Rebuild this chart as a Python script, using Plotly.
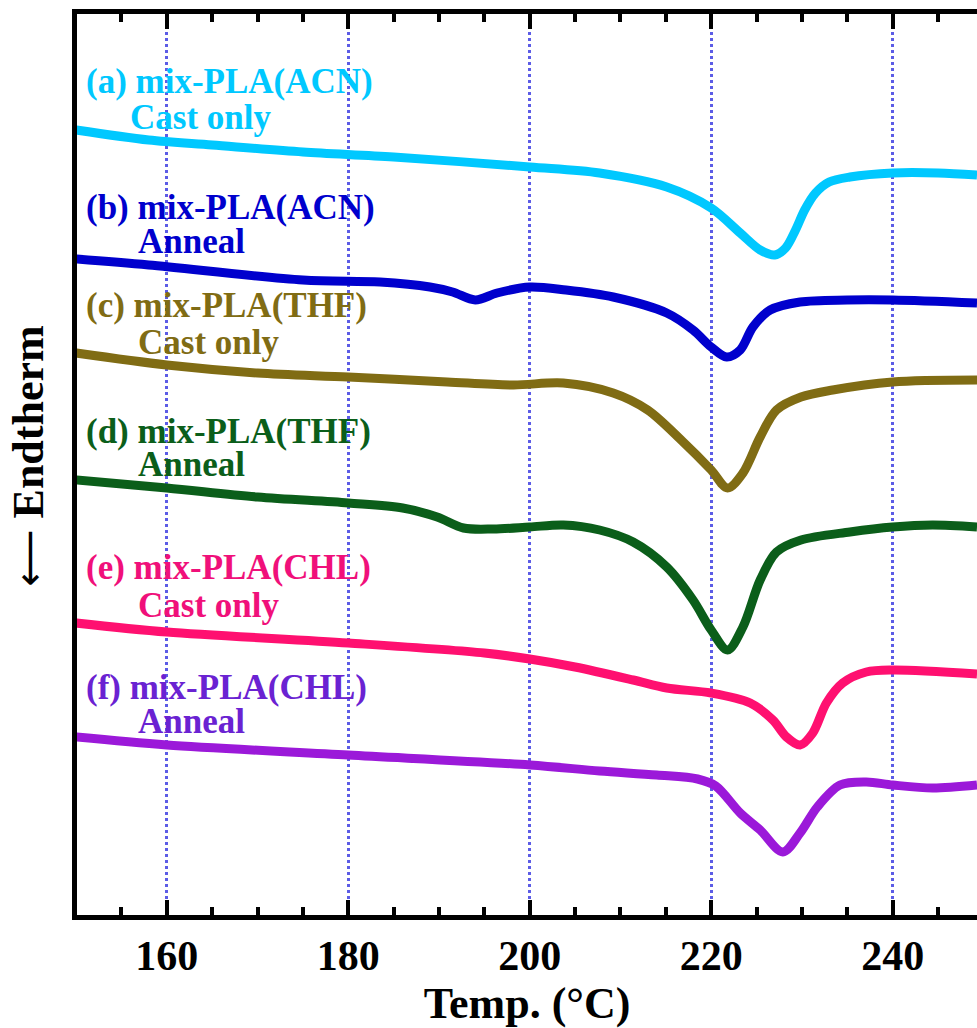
import plotly.graph_objects as go

# DSC heating traces (temperature in °C, heat flow in arbitrary offset units)
temp_a = [150, 158, 165, 175, 185, 200, 207.7, 215.1, 220, 223.2, 225.4, 227.0, 228.2, 229.3, 230.3, 231.5, 233.0, 235.3, 240, 245, 249.3]
flow_a = [78.7, 77.7, 77.2, 76.5, 76.0, 75.0, 74.4, 73.0, 70.9, 68.4, 66.7, 66.2, 66.9, 68.7, 70.7, 72.4, 73.5, 74.0, 74.4, 74.4, 74.2]

temp_b = [150, 158, 175, 183.5, 189, 191.5, 194, 196.4, 200, 204, 209.2, 215.1, 218, 220, 221.7, 223.2, 224.6, 226.5, 229.8, 235, 240, 249.3]
flow_b = [65.8, 65.2, 63.7, 63.5, 63.0, 62.5, 61.7, 62.4, 63.0, 62.7, 62.0, 60.4, 58.7, 57.0, 56.0, 56.7, 59.0, 60.7, 61.5, 61.7, 61.7, 61.4]

temp_c = [150, 160, 170, 180, 190.9, 198.2, 203.7, 209.2, 213.0, 216.8, 220, 221.8, 223.5, 225.4, 227.2, 229.9, 233.4, 240, 249.3]
flow_c = [56.4, 55.2, 54.4, 54.0, 53.5, 53.2, 53.4, 52.4, 50.7, 47.6, 44.7, 42.9, 44.4, 48.0, 50.7, 52.0, 52.7, 53.5, 53.7]

temp_d = [150, 160, 170, 180, 186, 189.8, 192.7, 196, 200, 203.7, 207.7, 211.4, 215.1, 218, 220, 221.8, 223.5, 225.4, 227.2, 229.9, 235.3, 240, 244.4, 249.3]
flow_d = [43.7, 42.9, 42.0, 41.4, 40.9, 40.0, 38.9, 38.8, 39.0, 39.2, 38.7, 37.5, 35.0, 31.7, 28.7, 26.7, 29.0, 33.7, 36.5, 37.7, 38.5, 39.0, 39.2, 39.0]

temp_e = [150, 160, 180, 195, 200, 205, 211.4, 215.1, 220, 224.3, 226.8, 228.3, 229.8, 231.2, 232.7, 234.5, 237.1, 240, 249.3]
flow_e = [29.4, 28.5, 27.4, 26.4, 25.8, 25.0, 23.7, 22.9, 22.4, 21.4, 19.7, 18.0, 17.2, 18.4, 21.4, 23.4, 24.5, 24.7, 24.3]

temp_f = [150, 160, 180, 200, 207.7, 214, 218.5, 220.5, 223.2, 225.4, 227.9, 229.8, 231.7, 234.2, 237.1, 240, 244.4, 249.3]
flow_f = [18.0, 17.2, 16.2, 15.2, 14.6, 14.2, 13.8, 13.1, 10.4, 8.7, 6.5, 8.4, 11.0, 13.2, 13.5, 13.2, 12.9, 13.2]

sample_names = ["(a) mix-PLA(ACN)", "(b) mix-PLA(ACN)", "(c) mix-PLA(THF)",
                "(d) mix-PLA(THF)", "(e) mix-PLA(CHL)", "(f) mix-PLA(CHL)"]
treatments = ["Cast only", "Anneal", "Cast only", "Anneal", "Cast only", "Anneal"]

line_colors = ["#00C8FF", "#0000CD", "#806C14", "#0B5E1A", "#FF1070", "#9B19D9"]
text_colors = ["#00C8FF", "#0000CD", "#806C14", "#0B5E1A", "#F0107A", "#6A22D2"]

# caption centres (in flow units) for the two caption lines of each trace
label_y1 = [83.6, 71.0, 61.2, 48.6, 35.0, 23.0]
label_y2 = [80.0, 67.6, 57.5, 45.3, 31.2, 19.6]
label_x2 = [155.8, 156.7, 156.7, 156.7, 156.7, 156.7]

temps = [temp_a, temp_b, temp_c, temp_d, temp_e, temp_f]
flows = [flow_a, flow_b, flow_c, flow_d, flow_e, flow_f]

FONT = "Liberation Serif"

fig = go.Figure()
for t, f, c, name in zip(temps, flows, line_colors, sample_names):
    fig.add_trace(go.Scatter(
        x=t, y=f, mode="lines", name=name,
        line=dict(color=c, width=9, shape="spline", smoothing=0.9),
        showlegend=False,
    ))

annotations = []
for n1, n2, c, y1, y2, x2 in zip(sample_names, treatments, text_colors,
                                  label_y1, label_y2, label_x2):
    annotations.append(dict(
        text=n1, x=151.0, y=y1, xref="x", yref="y", xanchor="left", yanchor="middle",
        borderpad=0,
        showarrow=False, font=dict(family=FONT, size=35, color=c, weight="bold"),
    ))
    annotations.append(dict(
        text=n2, x=x2, y=y2, xref="x", yref="y", xanchor="left", yanchor="middle",
        borderpad=0,
        showarrow=False, font=dict(family=FONT, size=35, color=c, weight="bold"),
    ))

annotations.append(dict(
    text="<span style='font-family:DejaVu Sans;font-size:40px;font-weight:normal'>⟵</span> Endtherm",
    xref="paper", yref="paper", x=-0.054, y=0.509,
    xanchor="center", yanchor="middle", textangle=-90, showarrow=False,
    font=dict(family=FONT, size=44, color="black", weight="bold"),
))

fig.update_layout(
    width=977, height=1028,
    margin=dict(l=77, r=0, t=14, b=113),
    paper_bgcolor="white", plot_bgcolor="white",
    annotations=annotations,
    xaxis=dict(
        range=[150.1, 249.3],
        tickmode="linear", tick0=160, dtick=20,
        ticks="inside", ticklen=15, tickwidth=4, tickcolor="black",
        showline=True, linewidth=5, linecolor="black", mirror="ticks",
        showgrid=True, gridcolor="#5C5CE6", gridwidth=2.5, griddash="dot",
        zeroline=False,
        minor=dict(dtick=5, tick0=150, ticks="inside", ticklen=8, tickwidth=4,
                   tickcolor="black", showgrid=False),
        tickfont=dict(family=FONT, size=42, color="black", weight="bold"),
        title=dict(text="Temp. (°C)", standoff=2,
                   font=dict(family=FONT, size=44, color="black", weight="bold")),
    ),
    yaxis=dict(
        range=[0.2, 90.3],
        showline=True, linewidth=5, linecolor="black", mirror=False,
        ticks="", showticklabels=False, showgrid=False, zeroline=False,
    ),
)

fig.write_html("out.html")
